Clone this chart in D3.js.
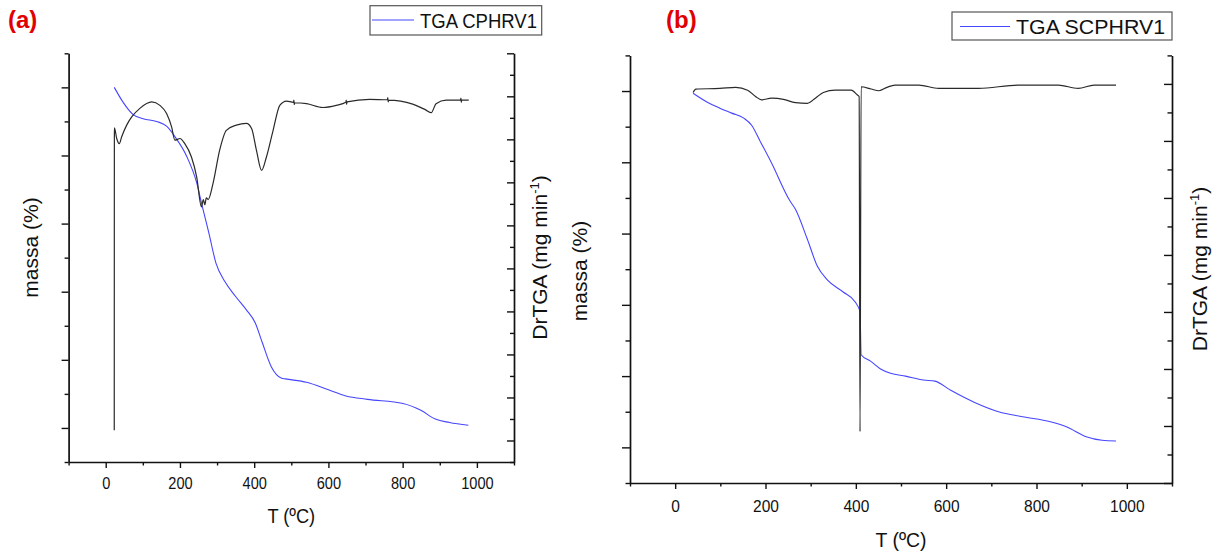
<!DOCTYPE html>
<html>
<head>
<meta charset="utf-8">
<script src="https://cdn.jsdelivr.net/npm/d3@7"></script>
<style>
  body { margin: 0; background: #fff; }
  svg { display: block; font-family: "Liberation Sans", Arial, sans-serif; }
</style>
</head>
<body>
<svg id="chart" width="1224" height="558"></svg>
<script>
// shared axes
const tempDomain = [-100, 1100]
const tempTicks = d3.range(-100, 1101, 100)      // every 100, labelled every 200
const massDomain = [45, 105]
const massTicks = d3.range(45, 106, 5)           // minor 5, major 10

// (a) CPHRV1 : [T ºC, massa %]
const tgaA = [[23,100],[47,97.8],[74,96.0],[101,95.4],[137,95.0],[164,94.3],[186,92.8],[218,89.9],
  [245,86.0],[259,82.8],[278,78.6],[297,74.2],[321,71.5],[350,69.3],[378,67.4],[403,65.4],[422,62.5],
  [446,59.0],[474,57.3],[484,57.2],[541,56.7],[600,55.6],[647,54.7],[705,54.2],[801,53.6],[849,52.6],
  [888,51.3],[926,50.8],[977,50.4]]
// (a) CPHRV1 : [T ºC, DrTGA mg/min]
const dtgA = [[23,-0.776],[23.4,-0.073],[29.6,-0.098],[36.6,-0.110],[43,-0.094],[56.5,-0.067],[70,-0.048],
  [92,-0.028],[124,-0.013],[146,-0.021],[164,-0.040],[177.5,-0.071],[186.4,-0.102],[200,-0.098],[213,-0.110],
  [231,-0.141],[245,-0.187],[258,-0.257],[263,-0.240],[267,-0.252],[271,-0.236],[276,-0.240],[289,-0.203],
  [307,-0.125],[325,-0.079],[352,-0.067],[379,-0.063],[393,-0.075],[406,-0.125],[420,-0.172],[433,-0.141],
  [451,-0.079],[469,-0.021],[487,-0.011],[506,-0.014],[507,-0.009],[508,-0.019],[509,-0.015],[541,-0.017],
  [585,-0.026],[621,-0.021],[647,-0.014],[648,-0.009],[649,-0.019],[650,-0.013],[711,-0.007],[759,-0.008],
  [760,-0.003],[761,-0.013],[762,-0.009],[827,-0.018],[863,-0.032],[877,-0.038],[890,-0.017],[917,-0.009],
  [956,-0.009],[957,-0.004],[958,-0.014],[959,-0.009],[978,-0.009]]
const dtgTicksA = d3.range(-17, 3)               // x 0.05

// (b) SCPHRV1
const tgaB = [[39.7,99.7],[72.2,98.4],[98.8,97.6],[125.2,96.9],[151.8,96.2],[169.3,95.2],[187,93.1],
  [213.4,89.9],[253,84.7],[266.3,83.4],[292.7,79.2],[314.9,75.4],[336.8,73.5],[372,71.8],[398.6,70.4],
  [409.3,69.0],[411.7,63.0],[432.5,62.1],[454.7,61.0],[476.8,60.4],[510,60.0],[550,59.45],[575,59.3],
  [610.2,58.0],[663,56.3],[716,55.0],[769,54.3],[830.7,53.6],[866,52.9],[910,51.5],[945.3,51.0],[976,50.9]]
const dtgB = [[39.7,-0.015],[45.9,-0.009],[98.8,-0.008],[134,-0.006],[160.4,-0.011],[178,-0.022],
  [191.4,-0.028],[213.4,-0.025],[239.7,-0.027],[266.3,-0.033],[292.7,-0.034],[310.4,-0.025],[328,-0.015],
  [354.5,-0.011],[389.8,-0.011],[403,-0.019],[407.3,-0.022],[409.3,-0.61],[411.7,-0.005],[433.9,-0.009],
  [451.4,-0.012],[469,-0.006],[486.8,-0.002],[539.5,-0.002],[583.6,-0.008],[671.8,-0.008],[760,-0.002],
  [848.2,-0.002],[892.3,-0.008],[927.5,-0.002],[976,-0.002]]
const dtgTicksB = d3.range(-14, 2)

const panelLabels = ["(a)", "(b)"]
const legendLabels = ["TGA CPHRV1", "TGA SCPHRV1"]
const xTitle = "T (ºC)"
const massTitle = "massa (%)"

const panels = [
  {cls: "pa", tga: tgaA, dtg: dtgA, dtgDomain: [-0.85, 0.1], dtgTicks: dtgTicksA,
   left: 68.6, right: 514, top: 53.3, bottom: 462, major: 7, minor: 4, squeeze: 0.91,
   tag: panelLabels[0], tagX: 8, tagY: 28,
   legend: legendLabels[0], box: [370, 5.7, 541.7, 35], lineX: [372, 414], lineY: 20, textX: 420, textY: 27.7,
   legendFont: 20, legendW: 117,
   tickLabelY: 483, titleY: 516, massX: 31, massY: 247.5, dtgX: 540, dtgY: 257.5},
  {cls: "pb", tga: tgaB, dtg: dtgB, dtgDomain: [-0.7, 0.05], dtgTicks: dtgTicksB,
   left: 630, right: 1172, top: 55.4, bottom: 483, major: 8, minor: 4.5, squeeze: 0.97,
   tag: panelLabels[1], tagX: 666, tagY: 28,
   legend: legendLabels[1], box: [952, 12, 1172, 40], lineX: [960, 1010], lineY: 26.5, textX: 1016, textY: 34,
   legendFont: 21, legendW: 149,
   tickLabelY: 506.7, titleY: 540, massX: 580, massY: 271, dtgX: 1200, dtgY: 269}
]

const svg = d3.select("#chart")

const squeeze = (sel, k) => sel.each(function () {
  const w = this.getComputedTextLength()
  d3.select(this).attr("textLength", w * k).attr("lengthAdjust", "spacingAndGlyphs")
})

const drawPanel = (p) => {
  const g = svg.append("g").attr("class", p.cls)

  const x = d3.scaleLinear().domain(tempDomain).range([p.left, p.right])
  const yMass = d3.scaleLinear().domain(massDomain).range([p.bottom, p.top])
  const yDtg = d3.scaleLinear().domain(p.dtgDomain).range([p.bottom, p.top])

  const massLine = d3.line().x(d => x(d[0])).y(d => yMass(d[1])).curve(d3.curveMonotoneX)
  const dtgLine = d3.line().x(d => x(d[0])).y(d => yDtg(d[1])).curve(d3.curveMonotoneX)

  g.append("path").datum(p.tga)
    .attr("d", massLine)
    .attr("fill", "none")
    .attr("stroke", "#4646ff")
    .attr("stroke-width", 1.1)

  g.append("path").datum(p.dtg)
    .attr("d", dtgLine)
    .attr("fill", "none")
    .attr("stroke", "#2a2a2a")
    .attr("stroke-width", 1.2)

  // bottom axis
  const xAxis = g.append("g")
    .attr("transform", `translate(0,${p.bottom})`)
    .call(d3.axisBottom(x).tickValues(tempTicks).tickSizeOuter(0).tickFormat(d => d % 200 === 0 ? d : ""))
  xAxis.selectAll(".tick line").attr("y2", d => d % 200 === 0 ? 6 : 3.5)
  xAxis.selectAll(".tick text")
    .attr("y", p.tickLabelY - p.bottom).attr("dy", "0.36em")
    .style("font-family", "Liberation Sans, Arial, sans-serif").style("font-size", "16px").attr("fill", "#111")
    .call(squeeze, p.squeeze)

  // left axis (massa), ticks out
  const yAxisL = g.append("g")
    .attr("transform", `translate(${p.left},0)`)
    .call(d3.axisLeft(yMass).tickValues(massTicks).tickSizeOuter(0).tickFormat(""))
  yAxisL.selectAll(".tick line").attr("x2", d => d % 10 === 0 ? -p.major : -p.minor)

  // right axis (DrTGA), ticks in
  const yAxisR = g.append("g")
    .attr("transform", `translate(${p.right},0)`)
    .call(d3.axisLeft(yDtg).tickValues(p.dtgTicks.map(i => i * 0.05)).tickSizeOuter(0).tickFormat(""))
  yAxisR.selectAll(".tick line").attr("x2", (d, i) => p.dtgTicks[i] % 2 === 0 ? -p.major : -p.minor)

  g.selectAll(".domain").attr("stroke", "#111").attr("stroke-width", 1.7)
  g.selectAll(".tick line").attr("stroke", "#111").attr("stroke-width", 1.4)

  // axis titles
  g.append("text")
    .attr("x", (p.left + p.right) / 2).attr("y", p.titleY).attr("dy", "0.36em")
    .attr("text-anchor", "middle").style("font-size", "20px").attr("fill", "#111")
    .text(xTitle)
    .call(squeeze, p.squeeze)

  g.append("text")
    .attr("transform", `translate(${p.massX},${p.massY}) rotate(-90)`)
    .attr("dy", "0.35em").attr("text-anchor", "middle")
    .style("font-size", "21px").attr("fill", "#111")
    .text(massTitle)

  const dtgTitle = g.append("text")
    .attr("transform", `translate(${p.dtgX},${p.dtgY}) rotate(-90)`)
    .attr("dy", "0.35em").attr("text-anchor", "middle")
    .style("font-size", "21px").attr("fill", "#111")
  dtgTitle.append("tspan").text("DrTGA (mg min")
  dtgTitle.append("tspan").attr("dy", -8).style("font-size", "13px").text("-1")
  dtgTitle.append("tspan").attr("dy", 8).text(")")

  // panel tag
  g.append("text")
    .attr("x", p.tagX).attr("y", p.tagY)
    .style("font-size", "24px").style("font-weight", "bold").attr("fill", "#e00000")
    .text(p.tag)

  // legend
  const [bx0, by0, bx1, by1] = p.box
  g.append("rect")
    .attr("x", bx0).attr("y", by0).attr("width", bx1 - bx0).attr("height", by1 - by0)
    .attr("fill", "#fff").attr("stroke", "#555").attr("stroke-width", 1.2)
  g.append("line")
    .attr("x1", p.lineX[0]).attr("x2", p.lineX[1]).attr("y1", p.lineY).attr("y2", p.lineY)
    .attr("stroke", "#4646ff").attr("stroke-width", 1.2)
  g.append("text")
    .attr("x", p.textX).attr("y", p.textY)
    .style("font-size", p.legendFont + "px").attr("fill", "#111")
    .attr("textLength", p.legendW).attr("lengthAdjust", "spacingAndGlyphs")
    .text(p.legend)
}

panels.forEach(drawPanel)
</script>
</body>
</html>
